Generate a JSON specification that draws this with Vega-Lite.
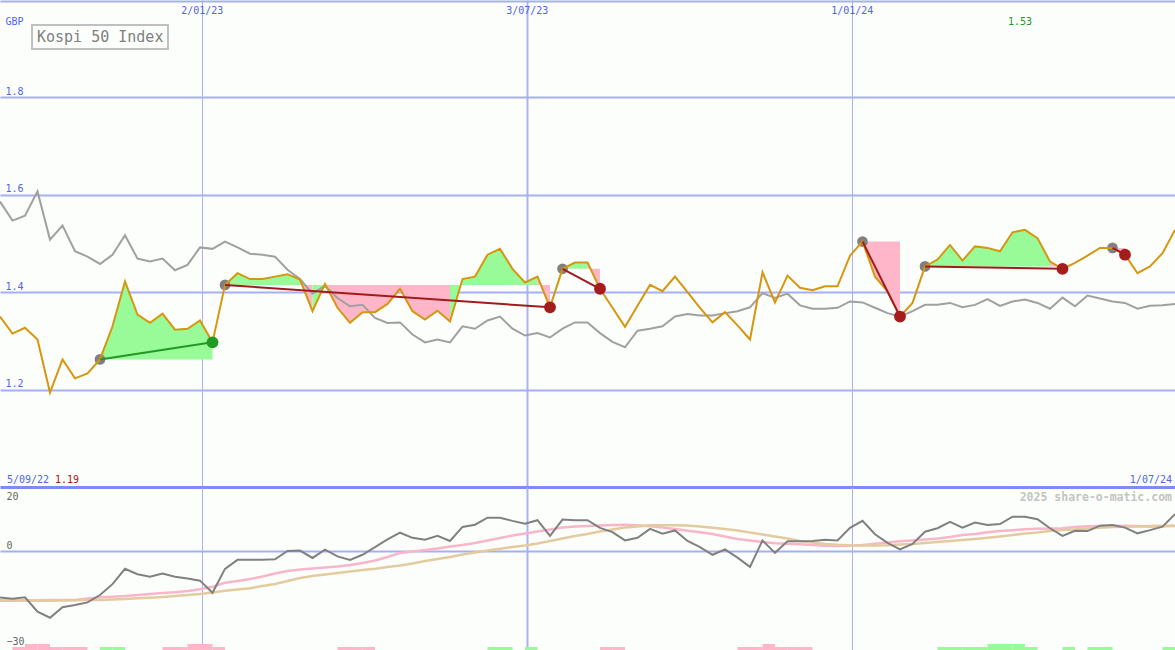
{
"$schema": "https://vega.github.io/schema/vega-lite/v6.json",
"background": "#fcfefc",
"padding": 0,
"spacing": 0,
"bounds": "flush",
"config": {"view": {"stroke": null}},
"resolve": {"scale": {"x": "independent", "y": "independent", "color": "independent"}},
"datasets": {
"px": [
{"d":"2022-09-11","p":1.350,"k":1.586,"m":-14.6,"a":-15.58,"b":-15.36},
{"d":"2022-09-18","p":1.315,"k":1.547,"m":-15.0,"a":-15.58,"b":-15.46},
{"d":"2022-09-25","p":1.327,"k":1.557,"m":-14.5,"a":-15.52,"b":-15.52},
{"d":"2022-10-02","p":1.303,"k":1.607,"m":-19.0,"a":-15.46,"b":-15.58},
{"d":"2022-10-09","p":1.194,"k":1.508,"m":-20.9,"a":-15.36,"b":-15.58},
{"d":"2022-10-16","p":1.262,"k":1.537,"m":-17.6,"a":-15.36,"b":-15.52},
{"d":"2022-10-23","p":1.223,"k":1.484,"m":-16.9,"a":-15.36,"b":-15.43},
{"d":"2022-10-30","p":1.233,"k":1.473,"m":-16.1,"a":-14.89,"b":-15.36},
{"d":"2022-11-06","p":1.262,"k":1.458,"m":-13.8,"a":-14.52,"b":-15.36},
{"d":"2022-11-13","p":1.330,"k":1.477,"m":-10.4,"a":-14.33,"b":-15.21},
{"d":"2022-11-20","p":1.422,"k":1.517,"m":-5.6,"a":-14.11,"b":-15.05},
{"d":"2022-11-27","p":1.354,"k":1.469,"m":-7.3,"a":-13.80,"b":-14.83},
{"d":"2022-12-04","p":1.337,"k":1.463,"m":-8.1,"a":-13.49,"b":-14.64},
{"d":"2022-12-11","p":1.356,"k":1.469,"m":-7.1,"a":-13.17,"b":-14.42},
{"d":"2022-12-18","p":1.323,"k":1.445,"m":-8.1,"a":-12.95,"b":-14.11},
{"d":"2022-12-25","p":1.325,"k":1.456,"m":-8.6,"a":-12.55,"b":-13.80},
{"d":"2023-01-01","p":1.342,"k":1.492,"m":-9.3,"a":-12.02,"b":-13.49},
{"d":"2023-01-08","p":1.297,"k":1.489,"m":-13.1,"a":-11.20,"b":-13.02},
{"d":"2023-01-15","p":1.415,"k":1.504,"m":-5.6,"a":-9.95,"b":-12.45},
{"d":"2023-01-22","p":1.439,"k":1.492,"m":-2.8,"a":-9.42,"b":-12.08},
{"d":"2023-01-29","p":1.427,"k":1.479,"m":-2.8,"a":-8.79,"b":-11.70},
{"d":"2023-02-05","p":1.427,"k":1.477,"m":-2.8,"a":-8.01,"b":-10.98},
{"d":"2023-02-12","p":1.432,"k":1.473,"m":-2.6,"a":-7.07,"b":-10.36},
{"d":"2023-02-19","p":1.437,"k":1.446,"m":0.0,"a":-6.29,"b":-9.42},
{"d":"2023-02-26","p":1.426,"k":1.427,"m":0.1,"a":-5.82,"b":-8.48},
{"d":"2023-03-05","p":1.361,"k":1.397,"m":-2.2,"a":-5.51,"b":-7.85},
{"d":"2023-03-12","p":1.417,"k":1.413,"m":0.4,"a":-5.19,"b":-7.38},
{"d":"2023-03-19","p":1.368,"k":1.388,"m":-1.7,"a":-4.88,"b":-6.91},
{"d":"2023-03-26","p":1.337,"k":1.371,"m":-2.8,"a":-4.41,"b":-6.45},
{"d":"2023-04-02","p":1.359,"k":1.374,"m":-1.2,"a":-3.79,"b":-5.98},
{"d":"2023-04-09","p":1.359,"k":1.347,"m":1.2,"a":-3.00,"b":-5.57},
{"d":"2023-04-16","p":1.376,"k":1.337,"m":3.6,"a":-1.91,"b":-5.04},
{"d":"2023-04-23","p":1.407,"k":1.338,"m":5.7,"a":-0.66,"b":-4.57},
{"d":"2023-04-30","p":1.361,"k":1.313,"m":4.1,"a":-0.19,"b":-3.94},
{"d":"2023-05-07","p":1.344,"k":1.297,"m":3.5,"a":0.28,"b":-3.16},
{"d":"2023-05-14","p":1.362,"k":1.303,"m":4.7,"a":0.75,"b":-2.53},
{"d":"2023-05-21","p":1.340,"k":1.297,"m":3.1,"a":1.38,"b":-1.91},
{"d":"2023-05-28","p":1.427,"k":1.330,"m":7.5,"a":1.85,"b":-1.13},
{"d":"2023-06-04","p":1.432,"k":1.325,"m":8.2,"a":2.47,"b":-0.50},
{"d":"2023-06-11","p":1.477,"k":1.342,"m":10.4,"a":3.25,"b":0.13},
{"d":"2023-06-18","p":1.489,"k":1.350,"m":10.4,"a":4.04,"b":0.69},
{"d":"2023-06-25","p":1.448,"k":1.325,"m":9.4,"a":4.82,"b":1.22},
{"d":"2023-07-02","p":1.420,"k":1.311,"m":8.5,"a":5.44,"b":1.69},
{"d":"2023-07-09","p":1.432,"k":1.316,"m":9.6,"a":6.07,"b":2.32},
{"d":"2023-07-16","p":1.369,"k":1.307,"m":4.7,"a":6.70,"b":3.10},
{"d":"2023-07-23","p":1.448,"k":1.325,"m":9.8,"a":7.32,"b":3.88},
{"d":"2023-07-30","p":1.461,"k":1.338,"m":9.6,"a":7.63,"b":4.66},
{"d":"2023-08-06","p":1.461,"k":1.338,"m":9.6,"a":7.79,"b":5.29},
{"d":"2023-08-13","p":1.407,"k":1.316,"m":7.2,"a":7.95,"b":6.07},
{"d":"2023-08-20","p":1.368,"k":1.298,"m":5.9,"a":8.10,"b":6.70},
{"d":"2023-08-27","p":1.329,"k":1.287,"m":3.3,"a":8.20,"b":7.32},
{"d":"2023-09-03","p":1.372,"k":1.321,"m":4.1,"a":8.01,"b":7.63},
{"d":"2023-09-10","p":1.415,"k":1.325,"m":6.9,"a":7.70,"b":8.01},
{"d":"2023-09-17","p":1.402,"k":1.330,"m":5.4,"a":7.32,"b":8.04},
{"d":"2023-09-24","p":1.432,"k":1.350,"m":6.4,"a":6.85,"b":8.04},
{"d":"2023-10-01","p":1.400,"k":1.355,"m":3.1,"a":6.32,"b":7.95},
{"d":"2023-10-08","p":1.368,"k":1.352,"m":1.2,"a":5.82,"b":7.63},
{"d":"2023-10-15","p":1.338,"k":1.352,"m":-1.2,"a":5.29,"b":7.23},
{"d":"2023-10-22","p":1.359,"k":1.357,"m":0.5,"a":4.51,"b":6.85},
{"d":"2023-10-29","p":1.332,"k":1.361,"m":-2.1,"a":3.72,"b":6.38},
{"d":"2023-11-05","p":1.303,"k":1.369,"m":-5.0,"a":3.25,"b":5.76},
{"d":"2023-11-12","p":1.441,"k":1.398,"m":3.3,"a":2.78,"b":5.13},
{"d":"2023-11-19","p":1.379,"k":1.388,"m":-0.6,"a":2.41,"b":4.51},
{"d":"2023-11-26","p":1.434,"k":1.397,"m":3.0,"a":2.22,"b":3.88},
{"d":"2023-12-03","p":1.409,"k":1.373,"m":3.0,"a":2.07,"b":3.10},
{"d":"2023-12-10","p":1.404,"k":1.366,"m":3.1,"a":1.85,"b":2.63},
{"d":"2023-12-17","p":1.412,"k":1.366,"m":3.5,"a":1.60,"b":2.16},
{"d":"2023-12-24","p":1.412,"k":1.368,"m":3.3,"a":1.53,"b":1.91},
{"d":"2023-12-31","p":1.475,"k":1.381,"m":7.2,"a":1.63,"b":1.75},
{"d":"2024-01-07","p":1.504,"k":1.379,"m":9.4,"a":1.85,"b":1.69},
{"d":"2024-01-14","p":1.432,"k":1.368,"m":5.2,"a":2.22,"b":1.66},
{"d":"2024-01-21","p":1.402,"k":1.357,"m":2.5,"a":2.63,"b":1.75},
{"d":"2024-01-28","p":1.350,"k":1.350,"m":0.5,"a":3.00,"b":2.00},
{"d":"2024-02-04","p":1.378,"k":1.361,"m":2.2,"a":3.25,"b":2.16},
{"d":"2024-02-11","p":1.453,"k":1.374,"m":6.0,"a":3.57,"b":2.47},
{"d":"2024-02-18","p":1.467,"k":1.374,"m":7.1,"a":3.88,"b":2.78},
{"d":"2024-02-25","p":1.497,"k":1.378,"m":9.1,"a":4.35,"b":3.10},
{"d":"2024-03-03","p":1.465,"k":1.369,"m":7.3,"a":4.97,"b":3.41},
{"d":"2024-03-10","p":1.494,"k":1.374,"m":8.9,"a":5.29,"b":3.72},
{"d":"2024-03-17","p":1.491,"k":1.386,"m":8.1,"a":5.82,"b":4.10},
{"d":"2024-03-24","p":1.484,"k":1.372,"m":8.4,"a":6.23,"b":4.51},
{"d":"2024-03-31","p":1.523,"k":1.381,"m":10.7,"a":6.48,"b":4.97},
{"d":"2024-04-07","p":1.528,"k":1.385,"m":10.7,"a":6.76,"b":5.44},
{"d":"2024-04-14","p":1.511,"k":1.378,"m":9.9,"a":6.91,"b":5.76},
{"d":"2024-04-21","p":1.463,"k":1.366,"m":7.1,"a":7.01,"b":6.23},
{"d":"2024-04-28","p":1.448,"k":1.389,"m":4.7,"a":7.10,"b":6.54},
{"d":"2024-05-05","p":1.460,"k":1.371,"m":6.3,"a":7.48,"b":6.70},
{"d":"2024-05-12","p":1.475,"k":1.393,"m":6.2,"a":7.73,"b":7.01},
{"d":"2024-05-19","p":1.491,"k":1.387,"m":7.9,"a":7.79,"b":7.23},
{"d":"2024-05-26","p":1.491,"k":1.381,"m":8.1,"a":7.85,"b":7.48},
{"d":"2024-06-02","p":1.477,"k":1.378,"m":7.3,"a":7.88,"b":7.57},
{"d":"2024-06-09","p":1.439,"k":1.366,"m":5.5,"a":7.79,"b":7.63},
{"d":"2024-06-16","p":1.453,"k":1.372,"m":6.5,"a":7.57,"b":7.79},
{"d":"2024-06-23","p":1.480,"k":1.373,"m":7.6,"a":7.70,"b":7.85},
{"d":"2024-06-30","p":1.528,"k":1.376,"m":11.5,"a":7.79,"b":7.88}
],
"fill": [
{"g":"A","c":"up","d":"2022-11-06","p":1.262,"l":1.262},
{"g":"A","c":"up","d":"2022-11-13","p":1.330,"l":1.262},
{"g":"A","c":"up","d":"2022-11-20","p":1.422,"l":1.262},
{"g":"A","c":"up","d":"2022-11-27","p":1.354,"l":1.262},
{"g":"A","c":"up","d":"2022-12-04","p":1.337,"l":1.262},
{"g":"A","c":"up","d":"2022-12-11","p":1.356,"l":1.262},
{"g":"A","c":"up","d":"2022-12-18","p":1.323,"l":1.262},
{"g":"A","c":"up","d":"2022-12-25","p":1.325,"l":1.262},
{"g":"A","c":"up","d":"2023-01-01","p":1.342,"l":1.262},
{"g":"A","c":"up","d":"2023-01-08","p":1.297,"l":1.262},
{"g":"B1","c":"up","d":"2023-01-15","p":1.415,"l":1.415},
{"g":"B1","c":"up","d":"2023-01-22","p":1.439,"l":1.415},
{"g":"B1","c":"up","d":"2023-01-29","p":1.427,"l":1.415},
{"g":"B1","c":"up","d":"2023-02-05","p":1.427,"l":1.415},
{"g":"B1","c":"up","d":"2023-02-12","p":1.432,"l":1.415},
{"g":"B1","c":"up","d":"2023-02-19","p":1.437,"l":1.415},
{"g":"B1","c":"up","d":"2023-02-26","p":1.426,"l":1.415},
{"g":"B2","c":"down","d":"2023-02-26","p":1.426,"l":1.415},
{"g":"B2","c":"down","d":"2023-03-05","p":1.361,"l":1.415},
{"g":"B3","c":"up","d":"2023-03-05","p":1.361,"l":1.415},
{"g":"B3","c":"up","d":"2023-03-12","p":1.417,"l":1.415},
{"g":"B4","c":"down","d":"2023-03-12","p":1.417,"l":1.415},
{"g":"B4","c":"down","d":"2023-03-19","p":1.368,"l":1.415},
{"g":"B4","c":"down","d":"2023-03-26","p":1.337,"l":1.415},
{"g":"B4","c":"down","d":"2023-04-02","p":1.359,"l":1.415},
{"g":"B4","c":"down","d":"2023-04-09","p":1.359,"l":1.415},
{"g":"B4","c":"down","d":"2023-04-16","p":1.376,"l":1.415},
{"g":"B4","c":"down","d":"2023-04-23","p":1.407,"l":1.415},
{"g":"B4","c":"down","d":"2023-04-30","p":1.361,"l":1.415},
{"g":"B4","c":"down","d":"2023-05-07","p":1.344,"l":1.415},
{"g":"B4","c":"down","d":"2023-05-14","p":1.362,"l":1.415},
{"g":"B4","c":"down","d":"2023-05-21","p":1.340,"l":1.415},
{"g":"B5","c":"up","d":"2023-05-21","p":1.340,"l":1.415},
{"g":"B5","c":"up","d":"2023-05-28","p":1.427,"l":1.415},
{"g":"B5","c":"up","d":"2023-06-04","p":1.432,"l":1.415},
{"g":"B5","c":"up","d":"2023-06-11","p":1.477,"l":1.415},
{"g":"B5","c":"up","d":"2023-06-18","p":1.489,"l":1.415},
{"g":"B5","c":"up","d":"2023-06-25","p":1.448,"l":1.415},
{"g":"B5","c":"up","d":"2023-07-02","p":1.420,"l":1.415},
{"g":"B5","c":"up","d":"2023-07-09","p":1.432,"l":1.415},
{"g":"B6","c":"down","d":"2023-07-09","p":1.432,"l":1.415},
{"g":"B6","c":"down","d":"2023-07-16","p":1.369,"l":1.415},
{"g":"C1","c":"up","d":"2023-07-23","p":1.448,"l":1.448},
{"g":"C1","c":"up","d":"2023-07-30","p":1.461,"l":1.448},
{"g":"C1","c":"up","d":"2023-08-06","p":1.461,"l":1.448},
{"g":"C2","c":"down","d":"2023-08-06","p":1.461,"l":1.448},
{"g":"C2","c":"down","d":"2023-08-13","p":1.407,"l":1.448},
{"g":"D1","c":"down","d":"2024-01-07","p":1.504,"l":1.504},
{"g":"D1","c":"down","d":"2024-01-14","p":1.432,"l":1.504},
{"g":"D1","c":"down","d":"2024-01-21","p":1.402,"l":1.504},
{"g":"D1","c":"down","d":"2024-01-28","p":1.350,"l":1.504},
{"g":"E1","c":"up","d":"2024-02-11","p":1.453,"l":1.453},
{"g":"E1","c":"up","d":"2024-02-18","p":1.467,"l":1.453},
{"g":"E1","c":"up","d":"2024-02-25","p":1.497,"l":1.453},
{"g":"E1","c":"up","d":"2024-03-03","p":1.465,"l":1.453},
{"g":"E1","c":"up","d":"2024-03-10","p":1.494,"l":1.453},
{"g":"E1","c":"up","d":"2024-03-17","p":1.491,"l":1.453},
{"g":"E1","c":"up","d":"2024-03-24","p":1.484,"l":1.453},
{"g":"E1","c":"up","d":"2024-03-31","p":1.523,"l":1.453},
{"g":"E1","c":"up","d":"2024-04-07","p":1.528,"l":1.453},
{"g":"E1","c":"up","d":"2024-04-14","p":1.511,"l":1.453},
{"g":"E1","c":"up","d":"2024-04-21","p":1.463,"l":1.453},
{"g":"E2","c":"down","d":"2024-04-21","p":1.463,"l":1.453},
{"g":"E2","c":"down","d":"2024-04-28","p":1.448,"l":1.453},
{"g":"F1","c":"down","d":"2024-05-26","p":1.491,"l":1.491},
{"g":"F1","c":"down","d":"2024-06-02","p":1.477,"l":1.491}
],
"trades": [
{"t":"T1","r":"win","s":"entry","d":"2022-11-06","v":1.262},
{"t":"T1","r":"win","s":"win","d":"2023-01-08","v":1.297},
{"t":"T2","r":"loss","s":"entry","d":"2023-01-15","v":1.415},
{"t":"T2","r":"loss","s":"loss","d":"2023-07-16","v":1.369},
{"t":"T3","r":"loss","s":"entry","d":"2023-07-23","v":1.448},
{"t":"T3","r":"loss","s":"loss","d":"2023-08-13","v":1.407},
{"t":"T4","r":"loss","s":"entry","d":"2024-01-07","v":1.504},
{"t":"T4","r":"loss","s":"loss","d":"2024-01-28","v":1.350},
{"t":"T5","r":"loss","s":"entry","d":"2024-02-11","v":1.453},
{"t":"T5","r":"loss","s":"loss","d":"2024-04-28","v":1.448},
{"t":"T6","r":"loss","s":"entry","d":"2024-05-26","v":1.491},
{"t":"T6","r":"loss","s":"loss","d":"2024-06-02","v":1.477}
],
"bars": [
{"d":"2022-09-18","e":"2022-09-25","h":1,"c":"down"},
{"d":"2022-09-25","e":"2022-10-02","h":2,"c":"down"},
{"d":"2022-10-02","e":"2022-10-09","h":2,"c":"down"},
{"d":"2022-10-09","e":"2022-10-16","h":1,"c":"down"},
{"d":"2022-10-16","e":"2022-10-23","h":1,"c":"down"},
{"d":"2022-10-23","e":"2022-10-30","h":1,"c":"down"},
{"d":"2022-11-06","e":"2022-11-13","h":1,"c":"up"},
{"d":"2022-11-13","e":"2022-11-20","h":1,"c":"up"},
{"d":"2022-12-11","e":"2022-12-18","h":1,"c":"down"},
{"d":"2022-12-18","e":"2022-12-25","h":1,"c":"down"},
{"d":"2022-12-25","e":"2023-01-01","h":2,"c":"down"},
{"d":"2023-01-01","e":"2023-01-08","h":2,"c":"down"},
{"d":"2023-01-08","e":"2023-01-15","h":1,"c":"down"},
{"d":"2023-03-19","e":"2023-03-26","h":1,"c":"down"},
{"d":"2023-03-26","e":"2023-04-02","h":1,"c":"down"},
{"d":"2023-04-02","e":"2023-04-09","h":1,"c":"down"},
{"d":"2023-06-11","e":"2023-06-18","h":1,"c":"up"},
{"d":"2023-06-18","e":"2023-06-25","h":1,"c":"up"},
{"d":"2023-07-02","e":"2023-07-09","h":1,"c":"up"},
{"d":"2023-08-13","e":"2023-08-20","h":1,"c":"down"},
{"d":"2023-08-20","e":"2023-08-27","h":1,"c":"down"},
{"d":"2023-10-29","e":"2023-11-05","h":1,"c":"down"},
{"d":"2023-11-05","e":"2023-11-12","h":1,"c":"down"},
{"d":"2023-11-12","e":"2023-11-19","h":2,"c":"down"},
{"d":"2023-11-19","e":"2023-11-26","h":1,"c":"down"},
{"d":"2023-11-26","e":"2023-12-03","h":1,"c":"down"},
{"d":"2023-12-03","e":"2023-12-10","h":1,"c":"down"},
{"d":"2024-02-18","e":"2024-02-25","h":1,"c":"up"},
{"d":"2024-02-25","e":"2024-03-03","h":1,"c":"up"},
{"d":"2024-03-03","e":"2024-03-10","h":1,"c":"up"},
{"d":"2024-03-10","e":"2024-03-17","h":1,"c":"up"},
{"d":"2024-03-17","e":"2024-03-24","h":2,"c":"up"},
{"d":"2024-03-24","e":"2024-03-31","h":2,"c":"up"},
{"d":"2024-03-31","e":"2024-04-07","h":2,"c":"up"},
{"d":"2024-04-07","e":"2024-04-14","h":1,"c":"up"},
{"d":"2024-04-28","e":"2024-05-05","h":1,"c":"up"},
{"d":"2024-05-12","e":"2024-05-19","h":1,"c":"up"},
{"d":"2024-05-19","e":"2024-05-26","h":1,"c":"up"},
{"d":"2024-06-23","e":"2024-06-30","h":1,"c":"up"}
]
},
"vconcat": [
{
"width": 1175,
"height": 487,
"resolve": {"scale": {"color": "independent"}},
"layer": [
{
"data": {"name": "fill"},
"mark": {"type": "area", "opacity": 1, "clip": true},
"encoding": {
"x": {"field": "d", "type": "temporal",
 "scale": {"domain": [{"year":2022,"month":9,"date":11,"utc":true},{"year":2024,"month":6,"date":30,"utc":true}], "nice": false},
 "axis": {"orient": "top", "title": null,
  "values": [{"year":2023,"month":1,"date":2,"utc":true},{"year":2023,"month":7,"date":3,"utc":true},{"year":2024,"month":1,"date":1,"utc":true}],
  "labelExpr": "utcFormat(datum.value, '%-d/%m/%y')",
  "grid": true, "gridColor": "#a9b3f4",
  "gridWidth": {"condition": {"test": "utcmonth(datum.value) == 6", "value": 2}, "value": 1},
  "ticks": false, "tickSize": 0, "domain": false,
  "labelPadding": -13, "labelBaseline": "alphabetic", "labelAlign": "center",
  "labelFont": "DejaVu Sans Mono", "labelFontSize": 10, "labelColor": "#5064ee",
  "labelFlush": false, "labelOverlap": false}},
"y": {"field": "p", "type": "quantitative",
 "scale": {"domain": [1, 2], "nice": false, "zero": false},
 "axis": {"title": null, "values": [1, 1.2, 1.4, 1.6, 1.8, 1.998],
  "grid": true,
  "gridColor": {"condition": {"test": "datum.value < 1.01", "value": "#7c8cf0"}, "value": "#a6b0f0"},
  "gridWidth": {"condition": {"test": "datum.value < 1.01", "value": 3}, "value": 2},
  "ticks": false, "tickSize": 0, "domain": false,
  "labelExpr": "datum.value > 1.99 ? 'GBP' : (datum.value < 1.01 ? '' : format(datum.value, '.1f'))",
  "labelAlign": "left", "labelBaseline": "alphabetic", "labelPadding": -5,
  "labelOffset": {"condition": {"test": "datum.value > 1.99", "value": 24}, "value": -3},
  "labelFont": "DejaVu Sans Mono", "labelFontSize": 10, "labelColor": "#5064ee",
  "labelFlush": false, "labelOverlap": false}},
"y2": {"field": "l"},
"color": {"field": "c", "type": "nominal", "scale": {"domain": ["up", "down"], "range": ["#98fb98", "#ffb6c8"]}, "legend": null},
"detail": {"field": "g"}
}
},
{
"data": {"name": "px"},
"mark": {"type": "line", "strokeWidth": 2, "clip": true},
"encoding": {
"x": {"field": "d", "type": "temporal"},
"y": {"field": "k", "type": "quantitative"},
"color": {"datum": "Kospi 50 Index", "type": "nominal", "scale": {"range": ["#a0a0a0"]},
 "legend": {"orient": "none", "legendX": 32, "legendY": 25, "title": null, "padding": 4,
  "strokeColor": "#c0c0c0", "fillColor": "#fcfefc",
  "symbolSize": 0, "symbolOpacity": 0, "symbolStrokeWidth": 0, "labelOffset": -14,
  "labelFont": "DejaVu Sans Mono", "labelFontSize": 15, "labelColor": "#808080", "labelLimit": 400,
  "encode": {"legend": {"update": {"strokeWidth": {"value": 2}}}}}}
}
},
{
"data": {"name": "trades"},
"transform": [{"filter": "datum.s == 'entry'"}],
"mark": {"type": "circle", "opacity": 1, "size": 115, "color": "#808080"},
"encoding": {
"x": {"field": "d", "type": "temporal"},
"y": {"field": "v", "type": "quantitative"}
}
},
{
"data": {"name": "px"},
"mark": {"type": "line", "strokeWidth": 2, "color": "#d6960e", "clip": true},
"encoding": {
"x": {"field": "d", "type": "temporal"},
"y": {"field": "p", "type": "quantitative"}
}
},
{
"data": {"name": "trades"},
"mark": {"type": "line", "strokeWidth": 2},
"encoding": {
"x": {"field": "d", "type": "temporal"},
"y": {"field": "v", "type": "quantitative"},
"detail": {"field": "t"},
"color": {"field": "r", "type": "nominal", "scale": {"domain": ["win", "loss"], "range": ["#229922", "#a01c1c"]}, "legend": null}
}
},
{
"data": {"name": "trades"},
"transform": [{"filter": "datum.s != 'entry'"}],
"mark": {"type": "circle", "opacity": 1, "size": 140},
"encoding": {
"x": {"field": "d", "type": "temporal"},
"y": {"field": "v", "type": "quantitative"},
"color": {"field": "s", "type": "nominal", "scale": {"domain": ["win", "loss"], "range": ["#229922", "#a51c1c"]}, "legend": null}
}
},
{
"data": {"values": [{"d": "2024-04-07", "t": "1.53"}]},
"mark": {"type": "text", "align": "center", "baseline": "alphabetic", "dx": -5, "dy": 25, "font": "DejaVu Sans Mono", "fontSize": 10, "color": "#1a9a1a"},
"encoding": {
"x": {"field": "d", "type": "temporal"},
"y": {"datum": 2, "type": "quantitative"},
"text": {"field": "t"}
}
},
{
"data": {"values": [{"d": "2022-09-11", "t": "5/09/22"}]},
"mark": {"type": "text", "align": "left", "baseline": "alphabetic", "dx": 7, "dy": -4, "font": "DejaVu Sans Mono", "fontSize": 10, "color": "#5064ee"},
"encoding": {
"x": {"field": "d", "type": "temporal"},
"y": {"datum": 1, "type": "quantitative"},
"text": {"field": "t"}
}
},
{
"data": {"values": [{"d": "2022-09-11", "t": "1.19"}]},
"mark": {"type": "text", "align": "left", "baseline": "alphabetic", "dx": 55, "dy": -4, "font": "DejaVu Sans Mono", "fontSize": 10, "color": "#aa1414"},
"encoding": {
"x": {"field": "d", "type": "temporal"},
"y": {"datum": 1, "type": "quantitative"},
"text": {"field": "t"}
}
},
{
"data": {"values": [{"d": "2024-06-30", "t": "1/07/24"}]},
"mark": {"type": "text", "align": "right", "baseline": "alphabetic", "dx": -3, "dy": -4, "font": "DejaVu Sans Mono", "fontSize": 10, "color": "#5064ee"},
"encoding": {
"x": {"field": "d", "type": "temporal"},
"y": {"datum": 1, "type": "quantitative"},
"text": {"field": "t"}
}
}
]
},
{
"width": 1175,
"height": 163,
"resolve": {"scale": {"y": "independent"}},
"layer": [
{
"data": {"name": "bars"},
"mark": {"type": "rect"},
"encoding": {
"x": {"field": "d", "type": "temporal",
 "scale": {"domain": [{"year":2022,"month":9,"date":11,"utc":true},{"year":2024,"month":6,"date":30,"utc":true}], "nice": false}},
"x2": {"field": "e"},
"y": {"field": "h", "type": "quantitative", "axis": null, "scale": {"domain": [0, 54], "nice": false}},
"y2": {"datum": 0},
"color": {"field": "c", "type": "nominal", "scale": {"domain": ["up", "down"], "range": ["#98fb98", "#ffb6c8"]}, "legend": null}
}
},
{
"layer": [
{
"data": {"name": "px"},
"mark": {"type": "line", "strokeWidth": 2.5, "color": "#f9b6c9", "clip": true},
"encoding": {
"x": {"field": "d", "type": "temporal",
 "axis": {"orient": "top", "title": null, "labels": false,
  "values": [{"year":2023,"month":1,"date":2,"utc":true},{"year":2023,"month":7,"date":3,"utc":true},{"year":2024,"month":1,"date":1,"utc":true}],
  "grid": true, "gridColor": "#a9b3f4",
  "gridWidth": {"condition": {"test": "utcmonth(datum.value) == 6", "value": 2}, "value": 1},
  "ticks": false, "tickSize": 0, "domain": false}},
"y": {"field": "a", "type": "quantitative",
 "scale": {"domain": [-31, 20], "nice": false, "zero": false},
 "axis": {"title": null, "values": [20, 0, -30],
  "grid": true, "gridColor": "#a6b0f0", "gridWidth": 2,
  "gridOpacity": {"condition": {"test": "datum.value == 0", "value": 1}, "value": 0},
  "ticks": false, "tickSize": 0, "domain": false,
  "labelAlign": "left", "labelBaseline": "alphabetic", "labelPadding": -6,
  "labelOffset": {"condition": {"test": "datum.value == 20", "value": 12}, "value": -2},
  "labelFont": "DejaVu Sans Mono", "labelFontSize": 10, "labelColor": "#666666",
  "labelFlush": false, "labelOverlap": false}}
}
},
{
"data": {"name": "px"},
"mark": {"type": "line", "strokeWidth": 2.5, "color": "#e3cb9f", "clip": true},
"encoding": {
"x": {"field": "d", "type": "temporal"},
"y": {"field": "b", "type": "quantitative"}
}
},
{
"data": {"name": "px"},
"mark": {"type": "line", "strokeWidth": 2, "color": "#808080", "clip": true},
"encoding": {
"x": {"field": "d", "type": "temporal"},
"y": {"field": "m", "type": "quantitative"}
}
},
{
"data": {"values": [{"d": "2024-06-30", "t": "2025 share-o-matic.com"}]},
"mark": {"type": "text", "align": "right", "baseline": "alphabetic", "dx": -3, "dy": 13.5, "font": "DejaVu Sans Mono", "fontSize": 11.5, "fontWeight": "bold", "color": "#c4c4c4"},
"encoding": {
"x": {"field": "d", "type": "temporal"},
"y": {"datum": 20, "type": "quantitative"},
"text": {"field": "t"}
}
}
]
}
]
}
]
}
